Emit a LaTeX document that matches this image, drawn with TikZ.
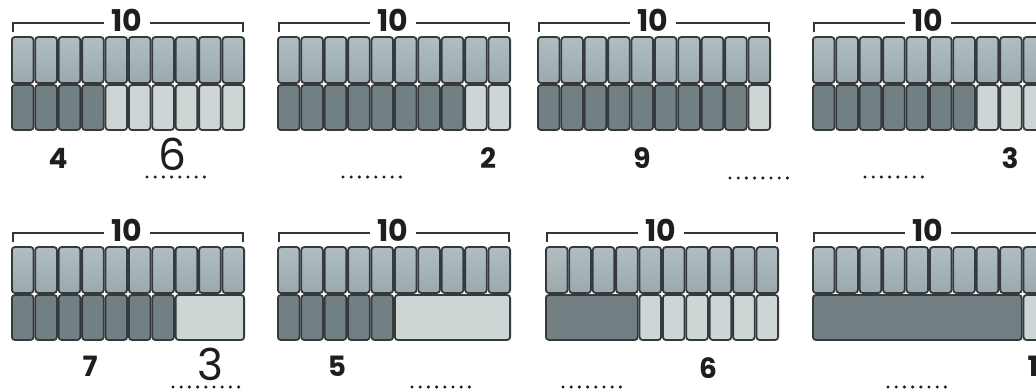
\documentclass[tikz,border=0pt]{standalone}
\usepackage{fontspec}
\setmainfont{Poppins}
\usetikzlibrary{positioning}
\definecolor{topgrey}{RGB}{163,178,182}
\definecolor{darkgrey}{RGB}{115,128,131}
\definecolor{lightgrey}{RGB}{205,213,213}
\definecolor{edgegrey}{RGB}{55,58,60}
\definecolor{inkblack}{RGB}{30,30,30}

\tikzset{
  cell/.style={draw=edgegrey, line width=1.8pt, rounded corners=3pt},
  topcell/.style={cell, top color=topgrey!85!white, bottom color=topgrey!95!black},
  partcell/.style={cell, fill=darkgrey},
  restcell/.style={cell, fill=lightgrey},
  brace line/.style={draw=inkblack!90, line width=2pt},
  total/.style={font=\bfseries\fontsize{30}{30}\selectfont, text=inkblack, inner xsep=7pt, inner ysep=1pt},
  given/.style={font=\bfseries\fontsize{28}{28}\selectfont, text=inkblack, inner sep=1pt},
  answer/.style={font=\fontsize{44}{44}\selectfont, text=inkblack, inner sep=0pt},
  blank/.style={draw=inkblack, line width=3.4pt, dash pattern=on 0pt off 8.2pt, line cap=round}
}

% #1 name, #2/#3 top left, #4 parts, #5 merge parts, #6 merge rest
\newcommand{\tenbar}[6]{%
  \begin{scope}[shift={(#2,#3)}]
    \foreach \i in {0,...,9}
      \draw[topcell] ({23.4*\i+0.9},0) rectangle ({23.4*(\i+1)-0.9},46);
    \ifnum#5=1
      \draw[partcell] (0.9,48) rectangle ({23.4*#4-0.9},93);
    \else
      \foreach \i in {1,...,#4}
        \draw[partcell] ({23.4*(\i-1)+0.9},48) rectangle ({23.4*\i-0.9},93);
    \fi
    \pgfmathtruncatemacro\firstrest{#4+1}
    \ifnum#6=1
      \draw[restcell] ({23.4*#4+0.9},48) rectangle (233.1,93);
    \else
      \foreach \i in {\firstrest,...,10}
        \draw[restcell] ({23.4*(\i-1)+0.9},48) rectangle ({23.4*\i-0.9},93);
    \fi
    \node[total] (#1) at (116,-17) {10};
    \draw[brace line] (2,-5) |- ([yshift=-3pt]#1.west);
    \draw[brace line] ([yshift=-3pt]#1.east) -| (232,-5);
  \end{scope}
}

\begin{document}
\begin{tikzpicture}[x=1pt, y=-1pt]
  \useasboundingbox (0,0) rectangle (1036,389);

  % upper row
  \tenbar{t1}{11}{37}{4}{0}{0}
  \tenbar{t2}{277}{37}{8}{0}{0}
  \tenbar{t3}{537}{37}{9}{0}{0}
  \tenbar{t4}{812}{37}{7}{0}{0}
  \node[given] (n1) at (58,158) {4};
  \node[answer] (a1) at (172,154) {6};
  \node[given] (n2) at (488,158) {2};
  \node[given] (n3) at (642,158) {9};
  \node[given] (n4) at (1010,158) {3};
  \draw[blank] (147,177) -- (205,177);
  \draw[blank] (343,177) -- (403,177);
  \draw[blank] (730,178) -- (790,178);
  \draw[blank] (865,177) -- (925,177);

  % lower row
  \tenbar{t5}{11}{247}{7}{0}{1}
  \tenbar{t6}{277}{247}{5}{0}{1}
  \tenbar{t7}{545}{247}{4}{1}{0}
  \tenbar{t8}{812}{247}{9}{1}{0}
  \node[given] (n5) at (90,366) {7};
  \node[answer] (a5) at (210,364) {3};
  \node[given] (n6) at (337,366) {5};
  \node[given] (n7) at (708,368) {6};
  \node[given] (n8) at (1033,366) {1};
  \draw[blank] (173,387) -- (242,387);
  \draw[blank] (412,387) -- (473,387);
  \draw[blank] (563,387) -- (623,387);
  \draw[blank] (888,387) -- (947,387);
\end{tikzpicture}
\end{document}
